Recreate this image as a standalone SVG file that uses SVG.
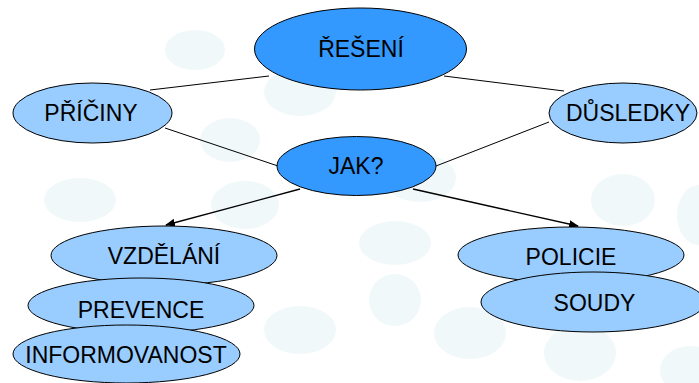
<svg xmlns="http://www.w3.org/2000/svg" width="699" height="383" viewBox="0 0 699 383">
<style>
.bg{fill:#d6eaf1;opacity:0.35}
.dark{fill:#3399ff;stroke:#000;stroke-width:1}
.light{fill:#99ccff;stroke:#000;stroke-width:1}
.lbl{font-family:"Liberation Sans",Arial,sans-serif;font-size:23px;fill:#000;text-anchor:middle}
.ln{stroke:#000;stroke-width:1;fill:none}
.ar{stroke:#000;stroke-width:1.3;fill:none;marker-end:url(#ah)}
</style>
<defs>
<marker id="ah" markerWidth="10" markerHeight="8" refX="9" refY="4" orient="auto" markerUnits="userSpaceOnUse">
<path d="M0,0 L10,4 L0,8 z" fill="#000"/>
</marker>
</defs>
<rect width="699" height="383" fill="#ffffff"/>
<g id="background">
<ellipse class="bg" cx="623" cy="200" rx="32" ry="26"/>
<ellipse class="bg" cx="699" cy="215" rx="22" ry="30"/>
<ellipse class="bg" cx="470" cy="333" rx="36" ry="26"/>
<ellipse class="bg" cx="580" cy="353" rx="36" ry="28"/>
<ellipse class="bg" cx="690" cy="370" rx="30" ry="24"/>
<ellipse class="bg" cx="395" cy="243" rx="36" ry="22"/>
<ellipse class="bg" cx="395" cy="300" rx="26" ry="26"/>
<ellipse class="bg" cx="430" cy="53" rx="30" ry="20"/>
<ellipse class="bg" cx="420" cy="178" rx="36" ry="24"/>
<ellipse class="bg" cx="300" cy="92" rx="36" ry="24"/>
<ellipse class="bg" cx="230" cy="140" rx="30" ry="22"/>
<ellipse class="bg" cx="245" cy="205" rx="34" ry="24"/>
<ellipse class="bg" cx="195" cy="50" rx="30" ry="20"/>
<ellipse class="bg" cx="300" cy="330" rx="36" ry="24"/>
<ellipse class="bg" cx="80" cy="200" rx="36" ry="22"/>
</g>
<g id="connectors">
<line class="ln" x1="150" y1="90" x2="269" y2="76"/>
<line class="ln" x1="444" y1="76" x2="564" y2="91"/>
<line class="ln" x1="165" y1="128" x2="278" y2="166"/>
<line class="ln" x1="436" y1="166" x2="549" y2="122"/>
<line class="ar" x1="300" y1="189" x2="166" y2="225"/>
<line class="ar" x1="413" y1="189" x2="578" y2="226"/>
</g>
<g id="node-reseni">
<ellipse class="dark" cx="360.5" cy="49" rx="106" ry="41"/>
<text class="lbl" x="361" y="57">ŘEŠENÍ</text>
</g>
<g id="node-priciny">
<ellipse class="light" cx="92.5" cy="113" rx="79.5" ry="30"/>
<text class="lbl" x="91" y="121">PŘÍČINY</text>
</g>
<g id="node-dusledky">
<ellipse class="light" cx="623" cy="113" rx="74" ry="30"/>
<text class="lbl" x="628" y="121">DŮSLEDKY</text>
</g>
<g id="node-jak">
<ellipse class="dark" cx="356.5" cy="166" rx="79.5" ry="29.5"/>
<text class="lbl" x="356" y="174">JAK?</text>
</g>
<g id="node-vzdelani">
<ellipse class="light" cx="164" cy="255.5" rx="113" ry="29.5"/>
<text class="lbl" x="164" y="264">VZDĚLÁNÍ</text>
</g>
<g id="node-prevence">
<ellipse class="light" cx="141" cy="305.5" rx="113" ry="27.5"/>
<text class="lbl" x="141" y="318">PREVENCE</text>
</g>
<g id="node-informovanost">
<ellipse class="light" cx="126.5" cy="354" rx="113.5" ry="29"/>
<text class="lbl" x="126" y="363">INFORMOVANOST</text>
</g>
<g id="node-policie">
<ellipse class="light" cx="571" cy="255" rx="113" ry="28"/>
<text class="lbl" x="571" y="265">POLICIE</text>
</g>
<g id="node-soudy">
<ellipse class="light" cx="593" cy="302" rx="112" ry="30"/>
<text class="lbl" x="594.5" y="311">SOUDY</text>
</g>
</svg>
